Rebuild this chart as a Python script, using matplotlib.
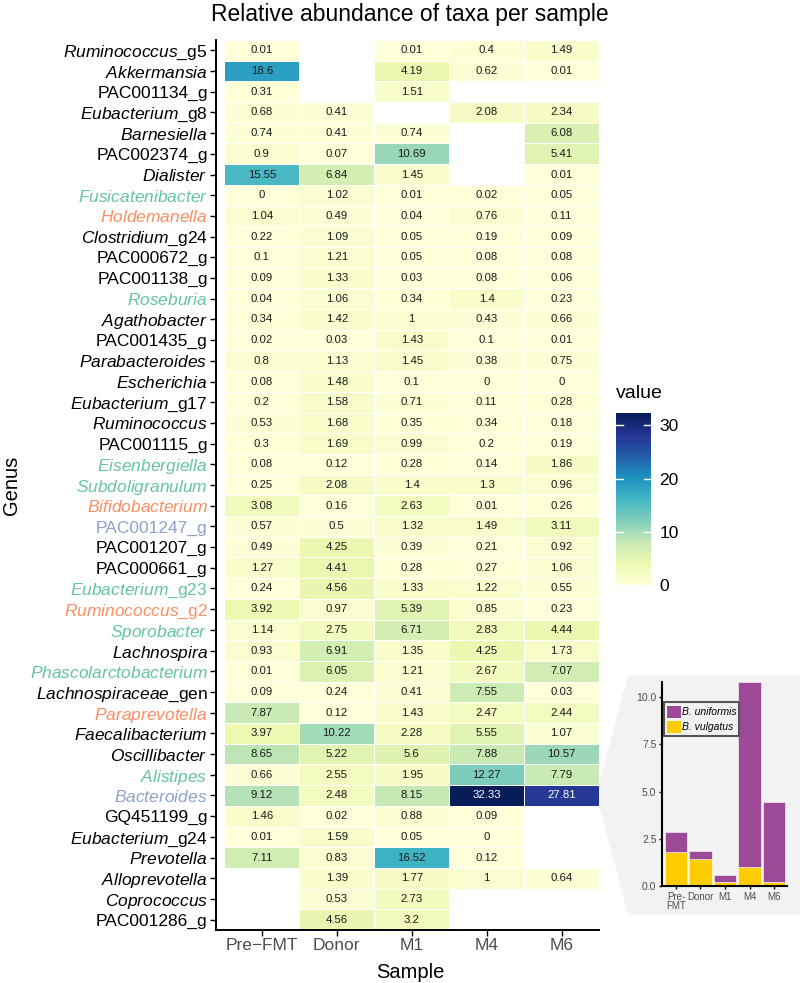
import numpy as np
import matplotlib
matplotlib.use('Agg')
import matplotlib.pyplot as plt
from matplotlib.patches import Polygon, Patch

plt.rcParams['font.family'] = ['Liberation Sans', 'DejaVu Sans']
plt.rcParams['mathtext.fontset'] = 'custom'
plt.rcParams['mathtext.rm'] = 'Liberation Sans'
plt.rcParams['mathtext.it'] = 'Liberation Sans:italic'

nan = np.nan

# heatmap data -------------------------------------------------------------
samples = ['Pre\u2212FMT', 'Donor', 'M1', 'M4', 'M6']

genus = ['Ruminococcus_g5', 'Akkermansia', 'PAC001134_g', 'Eubacterium_g8', 'Barnesiella',
         'PAC002374_g', 'Dialister', 'Fusicatenibacter', 'Holdemanella', 'Clostridium_g24',
         'PAC000672_g', 'PAC001138_g', 'Roseburia', 'Agathobacter', 'PAC001435_g',
         'Parabacteroides', 'Escherichia', 'Eubacterium_g17', 'Ruminococcus', 'PAC001115_g',
         'Eisenbergiella', 'Subdoligranulum', 'Bifidobacterium', 'PAC001247_g', 'PAC001207_g',
         'PAC000661_g', 'Eubacterium_g23', 'Ruminococcus_g2', 'Sporobacter', 'Lachnospira',
         'Phascolarctobacterium', 'Lachnospiraceae_gen', 'Paraprevotella', 'Faecalibacterium',
         'Oscillibacter', 'Alistipes', 'Bacteroides', 'GQ451199_g', 'Eubacterium_g24',
         'Prevotella', 'Alloprevotella', 'Coprococcus', 'PAC001286_g']

green_taxa = ['Fusicatenibacter', 'Roseburia', 'Eisenbergiella', 'Subdoligranulum',
              'Eubacterium_g23', 'Sporobacter', 'Phascolarctobacterium', 'Alistipes']
orange_taxa = ['Holdemanella', 'Bifidobacterium', 'Ruminococcus_g2', 'Paraprevotella']
blue_taxa = ['PAC001247_g', 'Bacteroides']

# columns: Pre-FMT, Donor, M1, M4, M6
values = np.array([
    [0.01, nan, 0.01, 0.4, 1.49],
    [18.6, nan, 4.19, 0.62, 0.01],
    [0.31, nan, 1.51, nan, nan],
    [0.68, 0.41, nan, 2.08, 2.34],
    [0.74, 0.41, 0.74, nan, 6.08],
    [0.9, 0.07, 10.69, nan, 5.41],
    [15.55, 6.84, 1.45, nan, 0.01],
    [0, 1.02, 0.01, 0.02, 0.05],
    [1.04, 0.49, 0.04, 0.76, 0.11],
    [0.22, 1.09, 0.05, 0.19, 0.09],
    [0.1, 1.21, 0.05, 0.08, 0.08],
    [0.09, 1.33, 0.03, 0.08, 0.06],
    [0.04, 1.06, 0.34, 1.4, 0.23],
    [0.34, 1.42, 1, 0.43, 0.66],
    [0.02, 0.03, 1.43, 0.1, 0.01],
    [0.8, 1.13, 1.45, 0.38, 0.75],
    [0.08, 1.48, 0.1, 0, 0],
    [0.2, 1.58, 0.71, 0.11, 0.28],
    [0.53, 1.68, 0.35, 0.34, 0.18],
    [0.3, 1.69, 0.99, 0.2, 0.19],
    [0.08, 0.12, 0.28, 0.14, 1.86],
    [0.25, 2.08, 1.4, 1.3, 0.96],
    [3.08, 0.16, 2.63, 0.01, 0.26],
    [0.57, 0.5, 1.32, 1.49, 3.11],
    [0.49, 4.25, 0.39, 0.21, 0.92],
    [1.27, 4.41, 0.28, 0.27, 1.06],
    [0.24, 4.56, 1.33, 1.22, 0.55],
    [3.92, 0.97, 5.39, 0.85, 0.23],
    [1.14, 2.75, 6.71, 2.83, 4.44],
    [0.93, 6.91, 1.35, 4.25, 1.73],
    [0.01, 6.05, 1.21, 2.67, 7.07],
    [0.09, 0.24, 0.41, 7.55, 0.03],
    [7.87, 0.12, 1.43, 2.47, 2.44],
    [3.97, 10.22, 2.28, 5.55, 1.07],
    [8.65, 5.22, 5.6, 7.88, 10.57],
    [0.66, 2.55, 1.95, 12.27, 7.79],
    [9.12, 2.48, 8.15, 32.33, 27.81],
    [1.46, 0.02, 0.88, 0.09, nan],
    [0.01, 1.59, 0.05, 0, nan],
    [7.11, 0.83, 16.52, 0.12, nan],
    [nan, 1.39, 1.77, 1, 0.64],
    [nan, 0.53, 2.73, nan, nan],
    [nan, 4.56, 3.2, nan, nan],
])

# inset data (Bacteroides species)
inset_samples = ['Pre-\nFMT', 'Donor', 'M1', 'M4', 'M6']
b_vulgatus = [1.8, 1.43, 0.2, 1.0, 0.2]
b_uniformis = [1.06, 0.42, 0.38, 9.8, 4.24]

# figure ------------------------------------------------------------------
W, H = 800, 983
fig = plt.figure(figsize=(W / 100, H / 100), dpi=100)


def box(x0, y0, x1, y1):
    # pixel box (top-left origin) -> figure fraction
    return [x0 / W, 1 - y1 / H, (x1 - x0) / W, (y1 - y0) / H]


ax = fig.add_axes(box(216, 40, 599, 930))
data = np.ma.masked_invalid(values)
mesh = ax.pcolormesh(np.arange(len(samples) + 1) - 0.5, np.arange(len(genus) + 1) - 0.5, data,
                     cmap='YlGnBu', vmin=0, vmax=np.nanmax(values),
                     edgecolors='white', linewidth=0.6)
ax.set_xlim(-0.613, 4.5)
ax.set_ylim(len(genus) - 0.5, -0.5)

for i in range(len(genus)):
    for j in range(len(samples)):
        v = values[i, j]
        if np.isnan(v):
            continue
        ax.text(j, i, f'{v:g}', ha='center', va='center', fontsize=8.2,
                color='white' if v > 25 else '#1A1A1A')


def fmt(name):
    if name.startswith(('PAC', 'GQ')):
        return name
    if '_' in name:
        g, s = name.split('_', 1)
        return '$\\mathit{' + g + '}$_' + s
    return '$\\mathit{' + name + '}$'


ax.set_xticks(range(len(samples)))
ax.set_xticklabels(samples)
ax.set_yticks(range(len(genus)))
ax.set_yticklabels([fmt(g) for g in genus])
for lab, g in zip(ax.get_yticklabels(), genus):
    if g in green_taxa:
        lab.set_color('#66C2A5')
    elif g in orange_taxa:
        lab.set_color('#FC8D62')
    elif g in blue_taxa:
        lab.set_color('#8DA0CB')
    else:
        lab.set_color('black')

ax.tick_params(axis='both', length=4, width=1, color='black', labelsize=12.5, pad=2)
ax.tick_params(axis='x', labelcolor='#4D4D4D')
for s in ['top', 'right']:
    ax.spines[s].set_visible(False)
for s in ['left', 'bottom']:
    ax.spines[s].set_linewidth(1.4)

fig.text(410 / W, 1 - 15 / H, 'Relative abundance of taxa per sample', ha='center', va='center',
         fontsize=16.5)
fig.text(410 / W, 1 - 972 / H, 'Sample', ha='center', va='center', fontsize=14.5)
fig.text(12 / W, 1 - 485 / H, 'Genus', ha='center', va='center', rotation=90, fontsize=14.5)

# colour bar
cax = fig.add_axes(box(616, 413, 651, 585))
cb = fig.colorbar(mesh, cax=cax)
cb.outline.set_visible(False)
cb.set_ticks([0, 10, 20, 30])
cax.tick_params(length=0, labelsize=12.5, pad=6)
for t in [10, 20, 30]:
    cax.plot([0, 0.2], [t, t], color='white', lw=1, transform=cax.get_yaxis_transform())
    cax.plot([0.8, 1], [t, t], color='white', lw=1, transform=cax.get_yaxis_transform())
fig.text(616 / W, 1 - 394 / H, 'value', ha='left', va='center', fontsize=14)

# grey callout behind the inset
pts_px = [(628, 675), (800, 675), (800, 915), (628, 915), (599, 804), (599, 784)]
pts = [(x / W, 1 - y / H) for x, y in pts_px]
fig.add_artist(Polygon(pts, closed=True, transform=fig.transFigure, facecolor='#F2F2F2',
                       edgecolor='none', zorder=0.5))

# inset bar chart
iax = fig.add_axes(box(662, 682, 787, 886), zorder=2)
iax.set_facecolor('none')
xpos = np.arange(len(inset_samples))
iax.bar(xpos, b_vulgatus, width=0.92, color='#FFCC00', edgecolor='white', linewidth=0.4)
iax.bar(xpos, b_uniformis, bottom=b_vulgatus, width=0.92, color='#9C4A97',
        edgecolor='white', linewidth=0.4)
iax.set_xlim(-0.57, 4.53)
iax.set_ylim(0, 10.8)
iax.set_yticks([0, 2.5, 5, 7.5, 10])
iax.set_yticklabels(['0.0', '2.5', '5.0', '7.5', '10.0'])
iax.set_xticks(xpos)
iax.set_xticklabels(inset_samples, linespacing=0.9)
iax.tick_params(axis='both', length=2.5, width=1, color='black', labelsize=7.5,
                labelcolor='#4D4D4D', pad=1.5)
iax.tick_params(axis='x', labelsize=7)
for s in ['top', 'right']:
    iax.spines[s].set_visible(False)
for s in ['left', 'bottom']:
    iax.spines[s].set_linewidth(1.5)

leg = iax.legend(handles=[Patch(facecolor='#9C4A97', edgecolor='none'),
                          Patch(facecolor='#FFCC00', edgecolor='none')],
                 labels=['B. uniformis', 'B. vulgatus'],
                 loc='upper left', bbox_to_anchor=(0.015, 0.9), borderaxespad=0,
                 prop={'style': 'italic', 'size': 7.5}, fancybox=False, framealpha=1,
                 facecolor='#F2F2F2', edgecolor='#555555',
                 handlelength=1.3, handleheight=1.4, handletextpad=0.1,
                 labelspacing=0.3, borderpad=0.3)
leg.get_frame().set_linewidth(1.5)

fig.savefig('out.png', dpi=100)
